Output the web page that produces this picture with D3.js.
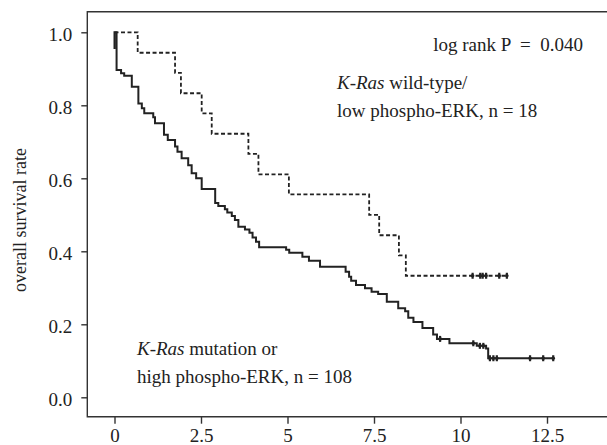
<!DOCTYPE html>
<html lang="en">
<head>
    <meta charset="UTF-8">
    <title>overall survival</title>
    <script src="https://d3js.org/d3.v7.min.js"></script>
    <style>
        body { margin: 0; background: #fff; }
        svg text { font-family: "Liberation Serif", "Times New Roman", "DejaVu Serif", serif; fill: #222; }
    </style>
</head>
<body>
<script>
    // K-Ras wild-type / low phospho-ERK (n = 18): drop times and survival after each drop
    var wildTimes = [0, 0.67, 1.75, 1.92, 2.52, 2.81, 3.87, 4.16, 5.04, 7.36, 7.65, 8.22, 8.42];
    var wildSurv  = [1, 0.944, 0.889, 0.833, 0.778, 0.722, 0.667, 0.611, 0.556, 0.5, 0.444, 0.389, 0.333];
    var wildCensor = [10.35, 10.57, 10.64, 10.74, 11.12, 11.34];

    // K-Ras mutation / high phospho-ERK (n = 108)
    var mutTimes = [0, 0, 0.06, 0.19, 0.28, 0.50, 0.69, 0.79, 0.86, 1.12, 1.17, 1.43, 1.54, 1.75, 1.82, 1.94,
        2.13, 2.23, 2.36, 2.52, 2.91, 3.00, 3.19, 3.26, 3.39, 3.48, 3.58, 3.77, 3.90, 3.99, 4.09, 4.18,
        4.96, 5.05, 5.43, 5.62, 5.94, 6.68, 6.78, 6.84, 6.98, 7.24, 7.43, 7.62, 7.87, 8.20, 8.40, 8.49,
        8.64, 8.90, 9.21, 9.32, 9.68, 10.47, 10.74, 10.80];
    var mutSurv = [0.954, 1, 0.897, 0.888, 0.881, 0.851, 0.805, 0.792, 0.778, 0.767, 0.751, 0.719, 0.705, 0.687, 0.673, 0.655,
        0.636, 0.614, 0.600, 0.571, 0.532, 0.524, 0.515, 0.506, 0.497, 0.486, 0.467, 0.460, 0.451, 0.438, 0.426, 0.411,
        0.404, 0.396, 0.385, 0.374, 0.358, 0.344, 0.330, 0.319, 0.308, 0.299, 0.289, 0.283, 0.262, 0.244, 0.236, 0.218,
        0.206, 0.190, 0.172, 0.160, 0.148, 0.141, 0.134, 0.107];
    var mutCensor = [9.41, 10.37, 10.56, 10.66, 10.85, 10.95, 11.05, 12.01, 12.39, 12.68];

    var xTicks = [0, 2.5, 5, 7.5, 10, 12.5];
    var yTicks = [0, 0.2, 0.4, 0.6, 0.8, 1.0];

    var width = 607;
    var height = 445;
    var ink = "#222";
    var serif = "'Liberation Serif', 'Times New Roman', 'DejaVu Serif', serif";

    var svg = d3.select("body").append("svg")
        .attr("width", width)
        .attr("height", height);

    var xScale = d3.scaleLinear().domain([0, 12.5]).range([114.5, 547]);
    var yScale = d3.scaleLinear().domain([0, 1]).range([397.3, 32.3]);

    // frame: left, top, bottom (right side open)
    var frameLeft = 87.3, frameTop = 11.7, frameBottom = 416.7;
    svg.append("path")
        .attr("d", "M" + width + "," + frameTop + "H" + frameLeft + "V" + frameBottom + "H" + width)
        .attr("fill", "none")
        .attr("stroke", "#333")
        .attr("stroke-width", 1.4);

    // y axis
    var yAxis = svg.append("g")
        .attr("transform", "translate(" + frameLeft + ",0)")
        .call(d3.axisLeft(yScale).tickValues(yTicks).tickFormat(d3.format(".1f")).tickSize(6).tickPadding(9));
    // x axis
    var xAxis = svg.append("g")
        .attr("transform", "translate(0," + frameBottom + ")")
        .call(d3.axisBottom(xScale).tickValues(xTicks).tickFormat(d => d).tickSize(7).tickPadding(5));
    [xAxis, yAxis].forEach(function (a) {
        a.attr("font-family", null);
        a.select(".domain").remove();
        a.selectAll(".tick line").attr("stroke", "#333").attr("stroke-width", 1.4);
        a.selectAll(".tick text")
            .style("font-family", serif)
            .style("font-size", "19px")
            .attr("fill", ink);
    });
    yAxis.selectAll(".tick text").attr("dy", "0.42em");

    svg.append("text")
        .attr("transform", "translate(26,220) rotate(-90)")
        .attr("text-anchor", "middle")
        .style("font-family", serif)
        .style("font-size", "18px")
        .text("overall survival rate");

    var step = d3.line()
        .x(d => xScale(d[0]))
        .y(d => yScale(d[1]))
        .curve(d3.curveStepAfter);

    function curvePoints(times, surv, censor) {
        var pts = times.map((t, i) => [t, surv[i]]);
        pts.push([d3.max(censor), surv[surv.length - 1]]);
        return pts;
    }

    svg.append("path")
        .attr("d", step(curvePoints(mutTimes, mutSurv, mutCensor)))
        .attr("fill", "none")
        .attr("stroke", ink)
        .attr("stroke-width", 2);

    svg.append("path")
        .attr("d", step(curvePoints(wildTimes, wildSurv, wildCensor)))
        .attr("fill", "none")
        .attr("stroke", ink)
        .attr("stroke-width", 1.8)
        .attr("stroke-dasharray", "4,2.5");

    function drawCensor(times, level) {
        svg.append("g").selectAll("line")
            .data(times)
            .enter()
            .append("line")
            .attr("x1", d => xScale(d))
            .attr("x2", d => xScale(d))
            .attr("y1", yScale(level) - 3)
            .attr("y2", yScale(level) + 3)
            .attr("stroke", ink)
            .attr("stroke-width", 2.2);
        svg.append("g").selectAll("circle")
            .data(times)
            .enter()
            .append("circle")
            .attr("cx", d => xScale(d))
            .attr("cy", yScale(level))
            .attr("r", 1.8)
            .attr("fill", ink);
    }
    drawCensor(wildCensor, wildSurv[wildSurv.length - 1]);
    // censor levels for the high group follow the curve at that time
    mutCensor.forEach(function (c) {
        var i = d3.bisectRight(mutTimes, c) - 1;
        drawCensor([c], mutSurv[i]);
    });

    // annotations
    svg.append("text")
        .attr("x", 583).attr("y", 51)
        .attr("text-anchor", "end")
        .style("font-family", serif)
        .style("font-size", "19px")
        .style("white-space", "pre")
        .text("log rank P  =  0.040");

    function label(x, y, italic, rest) {
        var t = svg.append("text").attr("x", x).attr("y", y)
            .style("font-family", serif)
            .style("font-size", "19px")
            .style("white-space", "pre");
        if (italic) t.append("tspan").style("font-style", "italic").text(italic);
        t.append("tspan").text(rest);
    }
    label(337, 89, "K-Ras", " wild-type/");
    label(337, 117, null, "low phospho-ERK, n = 18");
    label(137, 355, "K-Ras", " mutation or");
    label(137, 383, null, "high phospho-ERK, n = 108");
</script>
</body>
</html>
